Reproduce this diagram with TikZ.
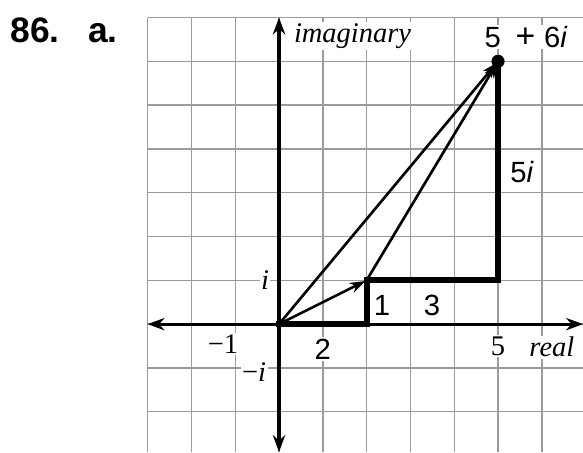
\documentclass[tikz,border=0pt]{standalone}
\usepackage{fontspec}
\setmainfont{Liberation Serif}
\setsansfont{Liberation Sans}
\usepackage{xcolor}
\definecolor{gridgray}{RGB}{155,155,155}
\usetikzlibrary{arrows.meta}

\begin{document}
\begin{tikzpicture}[x=1cm,y=1cm,
    gridline/.style={gridgray,line width=0.9pt},
    axisline/.style={line width=2pt,{Stealth[length=11pt,width=8pt]}-{Stealth[length=11pt,width=8pt]}},
    legline/.style={line width=4pt,line cap=rect,line join=miter},
    vecline/.style={line width=1.7pt,-{Stealth[length=10pt,width=7pt]},shorten >=1pt},
    axlabel/.style={fill=white,inner sep=1pt,font=\fontsize{18.5}{20}\selectfont},
    numlabel/.style={inner sep=1pt,font=\sffamily\fontsize{19}{22}\selectfont}]
  \useasboundingbox (-6.37,-2.92) rectangle (6.94,7.40);
  % Cuadricula
  \foreach \x in {-3,...,6}{\draw[gridline] (\x,-2.92) -- (\x,7);}
  \foreach \y in {-2,...,7}{\draw[gridline] (-3,\y) -- (6.94,\y);}
  % Ejes
  \coordinate (xl) at (-3,0);
  \coordinate (xr) at (6.94,0);
  \coordinate (yb) at (0,-2.92);
  \coordinate (yt) at (0,7);
  \draw[axisline] (xl) -- (xr);
  \draw[axisline] (yb) -- (yt);
  % Puntos de la suma
  \coordinate (O) at (0,0);
  \coordinate (A) at (2,0);
  \coordinate (B) at (2,1);
  \coordinate (C) at (5,1);
  \coordinate (P) at (5,6);
  \draw[legline] (O) -- (A) -- (B) -- (C) -- (P);
  \draw[vecline] (O) -- (B);
  \draw[vecline] (B) -- (P);
  \draw[vecline] (O) -- (P);
  \fill (P) circle (0.15);
  % Etiquetas de ejes
  \node[axlabel,anchor=base west] (imlab) at (0.3,6.44) {\textit{imaginary}};
  \node[axlabel,anchor=base] (relab) at (6.23,-0.75) {\textit{real}};
  \node[axlabel,anchor=base] (fivelab) at (5,-0.71) {5};
  \node[axlabel,anchor=base] (mlab) at (-1.28,-0.66) {−1};
  \node[axlabel,anchor=base] (ilab) at (-0.32,0.78) {\textit{i}};
  \node[axlabel,anchor=base] (milab) at (-0.57,-1.32) {−\textit{i}};
  % Etiquetas de la suma
  \node[numlabel,fill=white,anchor=base] (zlab) at (5.64,6.32) {5\hspace{0.5em}{\fontsize{22}{22}\selectfont+}\hspace{0.3em}6\textit{i}};
  \node[numlabel,anchor=base] (fiveilab) at (5.55,3.24) {5\textit{i}};
  \node[numlabel,anchor=base] (onelab) at (2.35,0.2) {1};
  \node[numlabel,anchor=base] (threelab) at (3.49,0.2) {3};
  \node[numlabel,fill=white,anchor=base] (twolab) at (1,-0.8) {2};
  % Numero del ejercicio
  \node[inner sep=0pt,anchor=base west,font=\sffamily\bfseries\fontsize{23}{28}\selectfont] (exlab) at (-6.14,6.44) {86.\hspace{0.65cm}a.};
\end{tikzpicture}
\end{document}
